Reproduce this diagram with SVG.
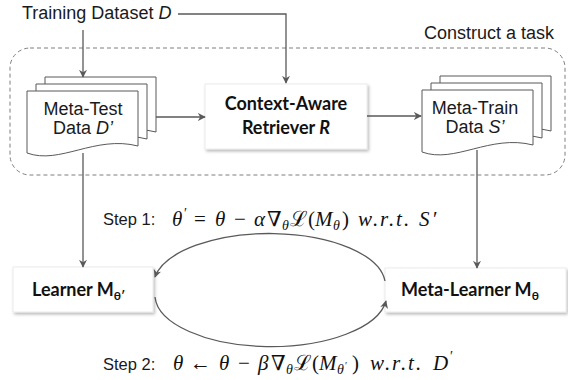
<svg xmlns="http://www.w3.org/2000/svg" width="568" height="380" viewBox="0 0 568 380">
<defs>
<style>
.lbl{font-family:"Liberation Sans",Arial,sans-serif;font-size:18px;fill:#1a1a1a}
.step{font-family:"Liberation Sans",Arial,sans-serif;font-size:16.5px;fill:#1a1a1a}
.bold{font-family:Lato,"Open Sans",sans-serif;font-weight:bold;font-size:18px;fill:#111}
.math{font-family:"Liberation Serif","DejaVu Serif",serif;font-size:21px;fill:#111}
.it{font-style:italic}
.sub{font-style:italic;font-size:14px}
.doc{fill:#fff;stroke:#595959;stroke-width:1}
.box{fill:#fff;stroke:#e6e6e6;stroke-width:0.8}
.conn{fill:none;stroke:#595959;stroke-width:1.3}
</style>
<marker id="arr" viewBox="0 0 10 10" refX="9" refY="5" markerWidth="8" markerHeight="8" markerUnits="userSpaceOnUse" orient="auto">
<path d="M0,0 L10,5 L0,10 L3,5 Z" fill="#595959"/>
</marker>
<filter id="sh" x="-10%" y="-20%" width="130%" height="150%">
<feDropShadow dx="1.5" dy="2" stdDeviation="1.5" flood-color="#000" flood-opacity="0.28"/>
</filter>
<path id="docshape" d="M0,0 H111 V55 C68,44 33,74 0,62 Z"/>
</defs>

<g id="construct-task">
<rect x="10" y="48" width="555" height="127" rx="20" ry="20" fill="none" stroke="#7f7f7f" stroke-width="1" stroke-dasharray="4,3"/>
<text class="lbl" x="424" y="39">Construct a task</text>
</g>

<g id="training-dataset">
<text class="lbl" x="22" y="19">Training Dataset <tspan class="it">D</tspan></text>
</g>

<g id="meta-test">
<use href="#docshape" class="doc" x="45" y="77"/>
<use href="#docshape" class="doc" x="36" y="84"/>
<use href="#docshape" class="doc" x="27" y="91"/>
<text class="lbl" x="83" y="115" text-anchor="middle">Meta-Test</text>
<text class="lbl" x="83" y="134" text-anchor="middle">Data <tspan class="it">D’</tspan></text>
</g>

<g id="retriever">
<rect class="box" x="205" y="84" width="162" height="65" filter="url(#sh)"/>
<text class="bold" x="286" y="110" text-anchor="middle" font-size="19.5">Context-Aware</text>
<text class="bold" x="286" y="134" text-anchor="middle" font-size="19.5">Retriever <tspan font-style="italic">R</tspan></text>
</g>

<g id="meta-train">
<use href="#docshape" class="doc" x="440" y="76"/>
<use href="#docshape" class="doc" x="431" y="83"/>
<use href="#docshape" class="doc" x="422" y="90"/>
<text class="lbl" x="475" y="114" text-anchor="middle">Meta-Train</text>
<text class="lbl" x="475" y="133" text-anchor="middle">Data <tspan class="it">S’</tspan></text>
</g>

<g id="learner">
<rect class="box" x="13" y="267" width="140" height="45" filter="url(#sh)"/>
<text class="bold" x="32" y="296">Learner M<tspan font-size="12" dy="4">θ′</tspan></text>
</g>

<g id="meta-learner">
<rect class="box" x="385" y="268" width="181" height="44" filter="url(#sh)"/>
<text class="bold" x="401" y="296" font-size="18.5">Meta-Learner M<tspan font-size="12" dy="4">θ</tspan></text>
</g>

<g id="connectors">
<path class="conn" d="M178,14 H286 V83" marker-end="url(#arr)"/>
<path class="conn" d="M83,30 V77" marker-end="url(#arr)"/>
<path class="conn" d="M156,117 H205" marker-end="url(#arr)"/>
<path class="conn" d="M367,116 H421" marker-end="url(#arr)"/>
<path class="conn" d="M83,153 V267" marker-end="url(#arr)"/>
<path class="conn" d="M477,150 V268" marker-end="url(#arr)"/>
<path class="conn" d="M385,281 A116,52 0 0 0 155,277" marker-end="url(#arr)"/>
<path class="conn" d="M155,297 A116,52 0 0 0 386,301" marker-end="url(#arr)"/>
</g>

<g id="step1">
<text class="step" x="103" y="225">Step 1:</text>
<text class="math" y="226"><tspan class="it" x="172">θ</tspan><tspan x="184" dy="-8" font-size="14">′</tspan><tspan x="194" dy="8">=</tspan><tspan class="it" x="215">θ</tspan><tspan x="234">−</tspan><tspan class="it" x="254">α</tspan><tspan x="267">∇</tspan><tspan class="sub" x="282" dy="4">θ</tspan><tspan x="290" dy="-4">ℒ</tspan><tspan x="308">(</tspan><tspan class="it" x="315">M</tspan><tspan class="sub" x="333" dy="4">θ</tspan><tspan x="342" dy="-4">)</tspan><tspan class="it" x="358 373 380 389 396 404">w.r.t.</tspan><tspan class="it" x="419">S</tspan><tspan x="433">′</tspan></text>
</g>

<g id="step2">
<text class="step" x="103" y="370">Step 2:</text>
<text class="math" y="370"><tspan class="it" x="173">θ</tspan><tspan x="190">←</tspan><tspan class="it" x="219">θ</tspan><tspan x="238">−</tspan><tspan class="it" x="258">β</tspan><tspan x="271">∇</tspan><tspan class="sub" x="286" dy="4">θ</tspan><tspan x="294" dy="-4">ℒ</tspan><tspan x="312">(</tspan><tspan class="it" x="319">M</tspan><tspan class="sub" x="337" dy="4">θ</tspan><tspan x="345" dy="-5" font-size="10">′</tspan><tspan x="352" dy="1">)</tspan><tspan class="it" x="370 385 392 401 408 416">w.r.t.</tspan><tspan class="it" x="433">D</tspan><tspan x="450" dy="-9" font-size="14">′</tspan></text>
</g>
</svg>
